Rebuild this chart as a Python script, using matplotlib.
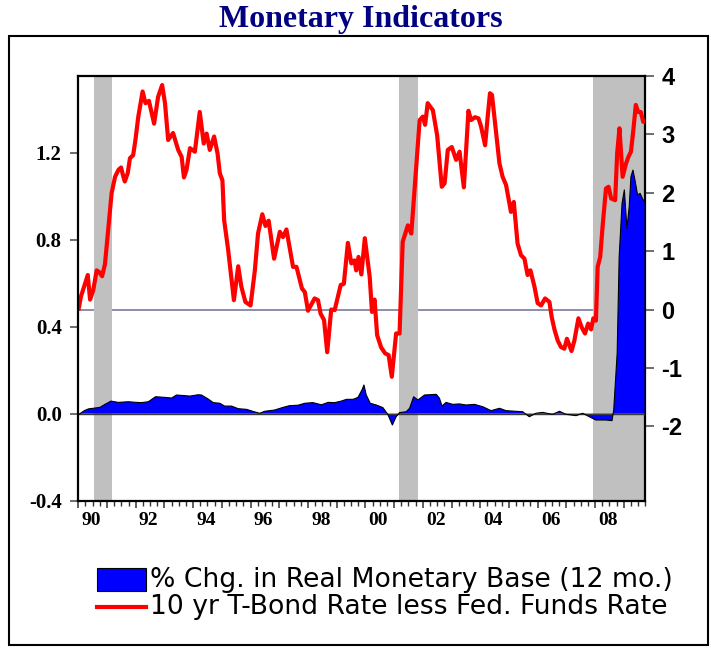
import matplotlib
matplotlib.use("Agg")
import matplotlib.pyplot as plt
from matplotlib.patches import Rectangle
from matplotlib.lines import Line2D

W, H = 711, 651

# ---------------- data ----------------
red_t = [1990.00, 1990.09, 1990.20, 1990.33, 1990.41, 1990.52, 1990.64, 1990.73, 1990.83, 1990.93,
         1991.04, 1991.16, 1991.28, 1991.40, 1991.49, 1991.57, 1991.62, 1991.72, 1991.80, 1991.91,
         1991.99, 1992.09, 1992.24, 1992.34, 1992.46, 1992.64, 1992.78, 1992.92, 1993.02, 1993.13,
         1993.30, 1993.48, 1993.60, 1993.68, 1993.77, 1993.89, 1994.06, 1994.23, 1994.37, 1994.47,
         1994.58, 1994.73, 1994.85, 1994.93, 1995.02, 1995.08, 1995.22, 1995.42, 1995.57, 1995.68,
         1995.82, 1996.00, 1996.15, 1996.26, 1996.41, 1996.52, 1996.63, 1996.82, 1997.02, 1997.13,
         1997.25, 1997.48, 1997.60, 1997.79, 1997.89, 1998.00, 1998.23, 1998.35, 1998.44, 1998.56,
         1998.67, 1998.81, 1998.93, 1999.14, 1999.25, 1999.39, 1999.51, 1999.62, 1999.68, 1999.76,
         1999.86, 1999.98, 2000.15, 2000.23, 2000.32, 2000.41, 2000.55, 2000.69, 2000.81, 2000.92,
         2001.07, 2001.19, 2001.30, 2001.48, 2001.60, 2001.71, 2001.89, 2002.00, 2002.08, 2002.17,
         2002.35, 2002.50, 2002.66, 2002.76, 2002.87, 2003.01, 2003.16, 2003.28, 2003.43, 2003.59,
         2003.68, 2003.82, 2003.94, 2004.03, 2004.17, 2004.26, 2004.34, 2004.41, 2004.52, 2004.67,
         2004.78, 2004.90, 2005.07, 2005.17, 2005.30, 2005.42, 2005.54, 2005.65, 2005.75, 2005.89,
         2006.00, 2006.12, 2006.26, 2006.41, 2006.49, 2006.59, 2006.70, 2006.81, 2006.93, 2007.02,
         2007.18, 2007.28, 2007.42, 2007.53, 2007.65, 2007.76, 2007.86, 2007.94, 2008.03, 2008.09,
         2008.18, 2008.26, 2008.38, 2008.47, 2008.56, 2008.70, 2008.77, 2008.85, 2008.96, 2009.08,
         2009.16, 2009.25, 2009.34, 2009.42, 2009.50, 2009.59, 2009.68, 2009.72]
red_v = [-0.02, 0.22, 0.39, 0.59, 0.17, 0.33, 0.67, 0.64, 0.57, 0.78,
         1.35, 1.99, 2.27, 2.39, 2.43, 2.27, 2.19, 2.33, 2.59, 2.64,
         2.90, 3.30, 3.73, 3.53, 3.57, 3.18, 3.64, 3.84, 3.53, 2.90,
         3.02, 2.73, 2.61, 2.26, 2.39, 2.76, 2.70, 3.38, 2.84, 3.01,
         2.73, 2.96, 2.67, 2.33, 2.21, 1.53, 1.02, 0.16, 0.74, 0.39,
         0.13, 0.07, 0.67, 1.30, 1.63, 1.43, 1.52, 0.87, 1.33, 1.24,
         1.37, 0.73, 0.73, 0.36, 0.30, -0.02, 0.19, 0.16, -0.07, -0.18,
         -0.73, 0.00, -0.01, 0.42, 0.44, 1.14, 0.79, 0.84, 0.67, 0.90,
         0.60, 1.22, 0.56, -0.04, 0.17, -0.44, -0.65, -0.75, -0.78, -1.15,
         -0.41, -0.41, 1.16, 1.44, 1.30, 2.04, 3.24, 3.30, 3.16, 3.53,
         3.41, 2.98, 2.10, 2.16, 2.73, 2.78, 2.56, 2.70, 2.09, 3.40,
         3.24, 3.29, 3.27, 3.13, 2.81, 3.30, 3.70, 3.67, 3.18, 2.50,
         2.27, 2.13, 1.67, 1.84, 1.13, 0.93, 0.87, 0.59, 0.67, 0.39,
         0.11, 0.07, 0.19, 0.13, -0.13, -0.35, -0.53, -0.64, -0.67, -0.50,
         -0.71, -0.53, -0.15, -0.30, -0.41, -0.24, -0.34, -0.15, -0.19, 0.73,
         0.90, 1.41, 2.07, 2.10, 1.90, 1.87, 2.67, 3.10, 2.27, 2.50,
         2.61, 2.70, 3.10, 3.50, 3.38, 3.38, 3.21, 3.24]

blue_t = [1990.00, 1990.21, 1990.35, 1990.75, 1990.93, 1991.14, 1991.39, 1991.74, 1992.03, 1992.20,
          1992.44, 1992.69, 1993.02, 1993.25, 1993.42, 1993.71, 1993.89, 1994.17, 1994.29, 1994.52,
          1994.70, 1994.93, 1995.10, 1995.34, 1995.57, 1995.86, 1996.15, 1996.32, 1996.49, 1996.84,
          1997.13, 1997.36, 1997.65, 1997.89, 1998.17, 1998.47, 1998.70, 1998.93, 1999.16, 1999.34,
          1999.57, 1999.74, 1999.88, 1999.95, 2000.03, 2000.17, 2000.38, 2000.61, 2000.78, 2000.94,
          2001.07, 2001.19, 2001.42, 2001.54, 2001.68, 2001.83, 2002.06, 2002.47, 2002.58, 2002.67,
          2002.81, 2003.04, 2003.28, 2003.51, 2003.80, 2004.09, 2004.38, 2004.67, 2004.90, 2005.25,
          2005.48, 2005.71, 2005.94, 2006.17, 2006.52, 2006.76, 2006.99, 2007.34, 2007.57, 2007.80,
          2008.03, 2008.38, 2008.59, 2008.65, 2008.77, 2008.84, 2008.94, 2009.02, 2009.11, 2009.19,
          2009.25, 2009.32, 2009.39, 2009.48, 2009.57, 2009.62, 2009.68, 2009.72]
blue_v = [-0.005, 0.014, 0.022, 0.029, 0.043, 0.058, 0.052, 0.055, 0.052, 0.051,
          0.055, 0.078, 0.075, 0.072, 0.086, 0.083, 0.081, 0.087, 0.086, 0.068,
          0.051, 0.048, 0.035, 0.035, 0.023, 0.020, 0.008, 0.002, 0.011, 0.017,
          0.029, 0.037, 0.039, 0.048, 0.051, 0.041, 0.052, 0.051, 0.058, 0.066,
          0.066, 0.075, 0.109, 0.132, 0.086, 0.048, 0.040, 0.028, -0.003, -0.052,
          -0.014, 0.005, 0.009, 0.025, 0.078, 0.063, 0.086, 0.089, 0.071, 0.035,
          0.052, 0.043, 0.045, 0.040, 0.043, 0.032, 0.014, 0.025, 0.014, 0.011,
          0.009, -0.014, 0.002, 0.006, -0.003, 0.011, -0.003, -0.009, 0.002, -0.014,
          -0.029, -0.029, -0.032, 0.017, 0.278, 0.722, 0.967, 1.029, 0.852, 0.952,
          1.090, 1.120, 1.074, 1.006, 1.013, 0.998, 0.982, 0.975]

rec_start = [1990.55, 2001.16, 2007.93]
rec_end = [1991.17, 2001.85, 2009.72]

year_ticks = list(range(1990, 2010))
quarter_ticks = [y + q / 4 for y in range(1990, 2010) for q in range(1, 4)]
label_years = [1990, 1992, 1994, 1996, 1998, 2000, 2002, 2004, 2006, 2008]
x_labels = ['90', '92', '94', '96', '98', '00', '02', '04', '06', '08']
left_ticks = [-0.4, 0.0, 0.4, 0.8, 1.2]
left_labels = ['-0.4', '0.0', '0.4', '0.8', '1.2']
right_ticks = [-2, -1, 0, 1, 2, 3, 4]
right_labels = ['-2', '-1', '0', '1', '2', '3', '4']

title = 'Monetary Indicators'
legend_blue = '% Chg. in Real Monetary Base (12 mo.)'
legend_red = '10 yr T-Bond Rate less Fed. Funds Rate'

# ---------------- figure ----------------
fig = plt.figure(figsize=(W / 100, H / 100), dpi=100)


def rect_px(x0, y0, x1, y1):
    return [x0 / W, 1 - y1 / H, (x1 - x0) / W, (y1 - y0) / H]


ax = fig.add_axes(rect_px(78.3, 75.7, 645.3, 500.7))
ax2 = ax.twinx()
ax.set_zorder(ax2.get_zorder() + 1)
ax.patch.set_visible(False)

# right-axis layer: shading, zero line, red series
for s, e in zip(rec_start, rec_end):
    ax2.axvspan(s, e, color='#c0c0c0', lw=0, zorder=1)
ax2.axhline(0, color='#6e6e96', lw=1.1, zorder=0.5)
ax2.plot(red_t, red_v, color='#ff0000', lw=3.0, zorder=3,
         solid_joinstyle='round', solid_capstyle='butt')

# left-axis layer: blue area
ax.fill_between(blue_t, 0, blue_v, facecolor='#0000ff', edgecolor='none', zorder=2)
ax.plot(blue_t, blue_v, color='black', lw=0.8, zorder=3)
ax.axhline(0, color='#3a3a3a', lw=1.0, zorder=2.5)

ax.set_xlim(1990.0, 2009.72)
ax.set_ylim(-0.4, 1.554)
ax2.set_ylim(-3.27, 4.0)

# spines
for sp in ['left', 'top', 'bottom']:
    ax.spines[sp].set_linewidth(1.6)
    ax.spines[sp].set_color('black')
ax.spines['right'].set_visible(False)
for sp in ['left', 'top', 'bottom']:
    ax2.spines[sp].set_visible(False)
ax2.spines['right'].set_linewidth(1.6)
ax2.spines['right'].set_color('black')

serif_bold = dict(family='Liberation Serif', weight='bold')
sans_bold = dict(family='Liberation Sans', weight='bold')

ax.set_yticks(left_ticks)
ax.set_yticklabels(left_labels, fontsize=15, **serif_bold)
ax.tick_params(axis='y', direction='out', length=6, width=1.2, color='#555555', pad=6)

ax.set_xticks(year_ticks)
ax.set_xticklabels([])
ax.set_xticks(quarter_ticks, minor=True)
ax.tick_params(axis='x', which='major', direction='out', length=5, width=1.1, color='#333333')
ax.tick_params(axis='x', which='minor', direction='out', length=3.5, width=1.0, color='#333333')

sec = ax.secondary_xaxis('bottom')
sec.set_xticks([y + 0.45 for y in label_years])
sec.set_xticklabels(x_labels, fontsize=14, **serif_bold)
sec.tick_params(length=0, pad=8)
sec.spines['bottom'].set_visible(False)

ax2.set_yticks(right_ticks)
ax2.set_yticklabels(right_labels, fontsize=17, **sans_bold)
ax2.tick_params(axis='y', direction='out', length=6.5, width=1.2, color='#555555', pad=5)

# outer frame
fig.add_artist(Rectangle((9 / W, 1 - 645 / H), (708 - 9) / W, (645 - 36) / H,
                         transform=fig.transFigure, fill=False, lw=1.5, ec='black'))

# title
fig.text(361 / W, 1 - 19 / H, title, ha='center', va='center', fontsize=23,
         color='#000080', **serif_bold)

# legend
fig.add_artist(Rectangle((97 / W, 1 - 591 / H), (146 - 97) / W, (591 - 568) / H,
                         transform=fig.transFigure, fc='#0000ff', ec='black', lw=0.8))
fig.add_artist(Line2D([97 / W, 146 / W], [1 - 607 / H, 1 - 607 / H],
                      transform=fig.transFigure, color='#ff0000', lw=3.0))
fig.text(150 / W, 1 - 580 / H, legend_blue, ha='left', va='center', fontsize=19.2,
         family='DejaVu Sans')
fig.text(150 / W, 1 - 607 / H, legend_red, ha='left', va='center', fontsize=19.2,
         family='DejaVu Sans')

fig.savefig('out.png', dpi=100, facecolor='white')
